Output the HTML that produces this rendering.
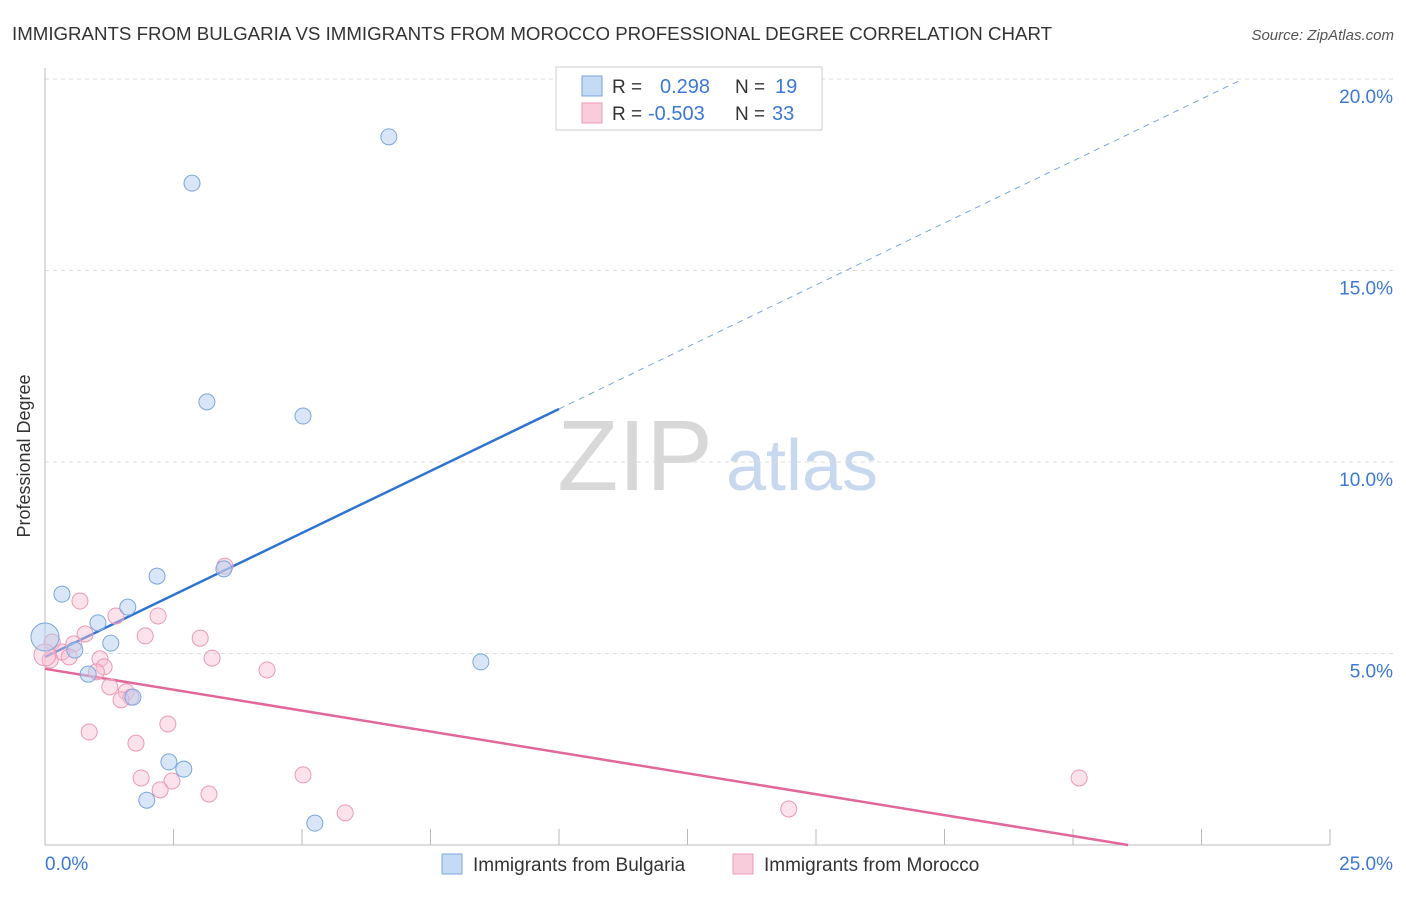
<!DOCTYPE html>
<html><head><meta charset="utf-8">
<style>
body{margin:0;background:#fff;font-family:"Liberation Sans",sans-serif;}
svg text{font-family:"Liberation Sans",sans-serif;}
</style></head>
<body>
<svg id="chart" width="1406" height="892" xmlns="http://www.w3.org/2000/svg">
<text x="12" y="40" font-size="18.7" fill="#333">IMMIGRANTS FROM BULGARIA VS IMMIGRANTS FROM MOROCCO PROFESSIONAL DEGREE CORRELATION CHART</text>
<text x="1394" y="40" font-size="15" fill="#555" font-style="italic" text-anchor="end">Source: ZipAtlas.com</text>
<text x="30" y="456" font-size="18" fill="#333" transform="rotate(-90 30 456)" text-anchor="middle">Professional Degree</text>
<g>
<text x="635" y="490" font-size="100" fill="#d8d8d8" font-family="Liberation Serif" text-anchor="middle">ZIP</text>
<text x="802" y="490" font-size="72" fill="#c8d8ee" text-anchor="middle">atlas</text>
</g>
<g id="grid"></g>
<g id="axes"></g>
<g id="lines"></g>
<g id="points"></g>
<g>
<rect x="556" y="67" width="266" height="63" fill="#fff" stroke="#ccc"/>
<rect x="582" y="76" width="20" height="20" fill="#c5daf5" stroke="#7aa6e0"/>
<rect x="582" y="103" width="20" height="20" fill="#f9ccdb" stroke="#ec99b6"/>
<text x="612" y="93" font-size="19" fill="#333">R = </text><text x="660" y="93" font-size="20" fill="#3c78d8">0.298</text>
<text x="735" y="93" font-size="19" fill="#333">N = </text><text x="775" y="93" font-size="20" fill="#3c78d8">19</text>
<text x="612" y="120" font-size="19" fill="#333">R = </text><text x="648" y="120" font-size="20" fill="#3c78d8">-0.503</text>
<text x="735" y="120" font-size="19" fill="#333">N = </text><text x="772" y="120" font-size="20" fill="#3c78d8">33</text>
</g>
<g>
<rect x="442" y="854" width="20" height="20" fill="#c5daf5" stroke="#7aa6e0"/>
<text x="473" y="871" font-size="19" fill="#333">Immigrants from Bulgaria</text>
<rect x="733" y="854" width="20" height="20" fill="#f9ccdb" stroke="#ec99b6"/>
<text x="764" y="871" font-size="19" fill="#333">Immigrants from Morocco</text>
</g>
</svg>
<script>
const yTicks=[5,10,15,20];
const yTickLabels=["5.0%","10.0%","15.0%","20.0%"];
const xEndLabels=["0.0%","25.0%"];
const bulgariaX=[6.69,2.86,3.15,5.02,3.48,2.18,0.33,1.61,1.03,1.28,0,0.58,0.84,1.71,8.48,2.41,2.70,1.98,5.25];
const bulgariaY=[18.49,17.28,11.57,11.2,7.21,7.02,6.55,6.21,5.8,5.27,5.43,5.09,4.46,3.86,4.78,2.17,1.98,1.17,0.57];
const moroccoX=[3.5,0.68,1.38,2.2,0.78,1.95,3.02,0.14,0.56,0.33,0.47,1.07,3.25,0.1,1.15,1.0,4.32,1.26,1.58,1.67,1.48,2.39,0.86,1.77,1.87,2.47,2.24,3.19,5.02,5.84,14.47,20.12,0];
const moroccoY=[7.28,6.37,5.98,5.98,5.51,5.46,5.4,5.3,5.25,5.04,4.91,4.86,4.88,4.83,4.65,4.52,4.57,4.13,4.0,3.86,3.79,3.16,2.95,2.66,1.75,1.67,1.44,1.33,1.83,0.84,0.94,1.75,4.96];
const bulgariaTrend=[4.91,0.6475]; // intercept, slope
const moroccoTrend=[4.6,-0.2183];
const NS="http://www.w3.org/2000/svg";
const X0=45,X1=1330,Y0=845,PY=38.3;
const xs=v=>X0+v*(X1-X0)/25;
const ys=v=>Y0-v*PY;
function mk(tag,attrs,parent){const e=document.createElementNS(NS,tag);for(const k in attrs)e.setAttribute(k,attrs[k]);document.getElementById(parent).appendChild(e);return e;}
yTicks.forEach((t,i)=>{
 const l=mk('line',{x1:X0,x2:1394,y1:ys(t),y2:ys(t),stroke:'#ddd','stroke-dasharray':'4,4'},'grid');
 
 
 const tx=mk('text',{x:1393,y:ys(t)+24,'font-size':19,fill:'#3c78d8','text-anchor':'end'},'grid');
 tx.textContent=yTickLabels[i];
 
 
});
const ax=mk('line',{x1:X0,x2:X0,y1:68,y2:Y0,stroke:'#bbb'},'axes');


const bx=mk('line',{x1:X0,x2:X1,y1:Y0,y2:Y0,stroke:'#bbb'},'axes');


for(let i=0;i<=10;i++){
 const t=mk('line',{x1:xs(i*2.5),x2:xs(i*2.5),y1:Y0,y2:Y0-16,stroke:'#bbb'},'axes');
 
 
}
[[0,'start',45],[25,'end',1393]].forEach((d,i)=>{
 const tx=mk('text',{x:d[2],y:870,'font-size':19,fill:'#3c78d8','text-anchor':d[1]},'axes');
 tx.textContent=xEndLabels[i];
 
 
});
const bSolidEnd=10, bDashEnd=23.25;
let l1=mk('line',{x1:xs(0),y1:ys(bulgariaTrend[0]),x2:xs(bSolidEnd),y2:ys(bulgariaTrend[0]+bulgariaTrend[1]*bSolidEnd),stroke:'#2f74d0','stroke-width':2.5},'lines');


let l2=mk('line',{x1:xs(bSolidEnd),y1:ys(bulgariaTrend[0]+bulgariaTrend[1]*bSolidEnd),x2:xs(bDashEnd),y2:ys(bulgariaTrend[0]+bulgariaTrend[1]*bDashEnd),stroke:'#7aa6e0','stroke-width':1,'stroke-dasharray':'6,5'},'lines');


const mEnd=-moroccoTrend[0]/moroccoTrend[1];
let l3=mk('line',{x1:xs(0),y1:ys(moroccoTrend[0]),x2:xs(mEnd),y2:ys(0),stroke:'#e2679a','stroke-width':2.5},'lines');


moroccoX.forEach((x,i)=>{
 const c=mk('circle',{cx:xs(x),cy:ys(moroccoY[i]),r:(x===0?11:8),fill:'rgba(248,190,210,0.45)',stroke:'#ec99b6','stroke-width':1},'points');
 
 
});
bulgariaX.forEach((x,i)=>{
 const c=mk('circle',{cx:xs(x),cy:ys(bulgariaY[i]),r:(x===0?14:8),fill:'rgba(180,205,240,0.5)',stroke:'#7aa6e0','stroke-width':1},'points');
 
 
});
</script>
</body></html>
